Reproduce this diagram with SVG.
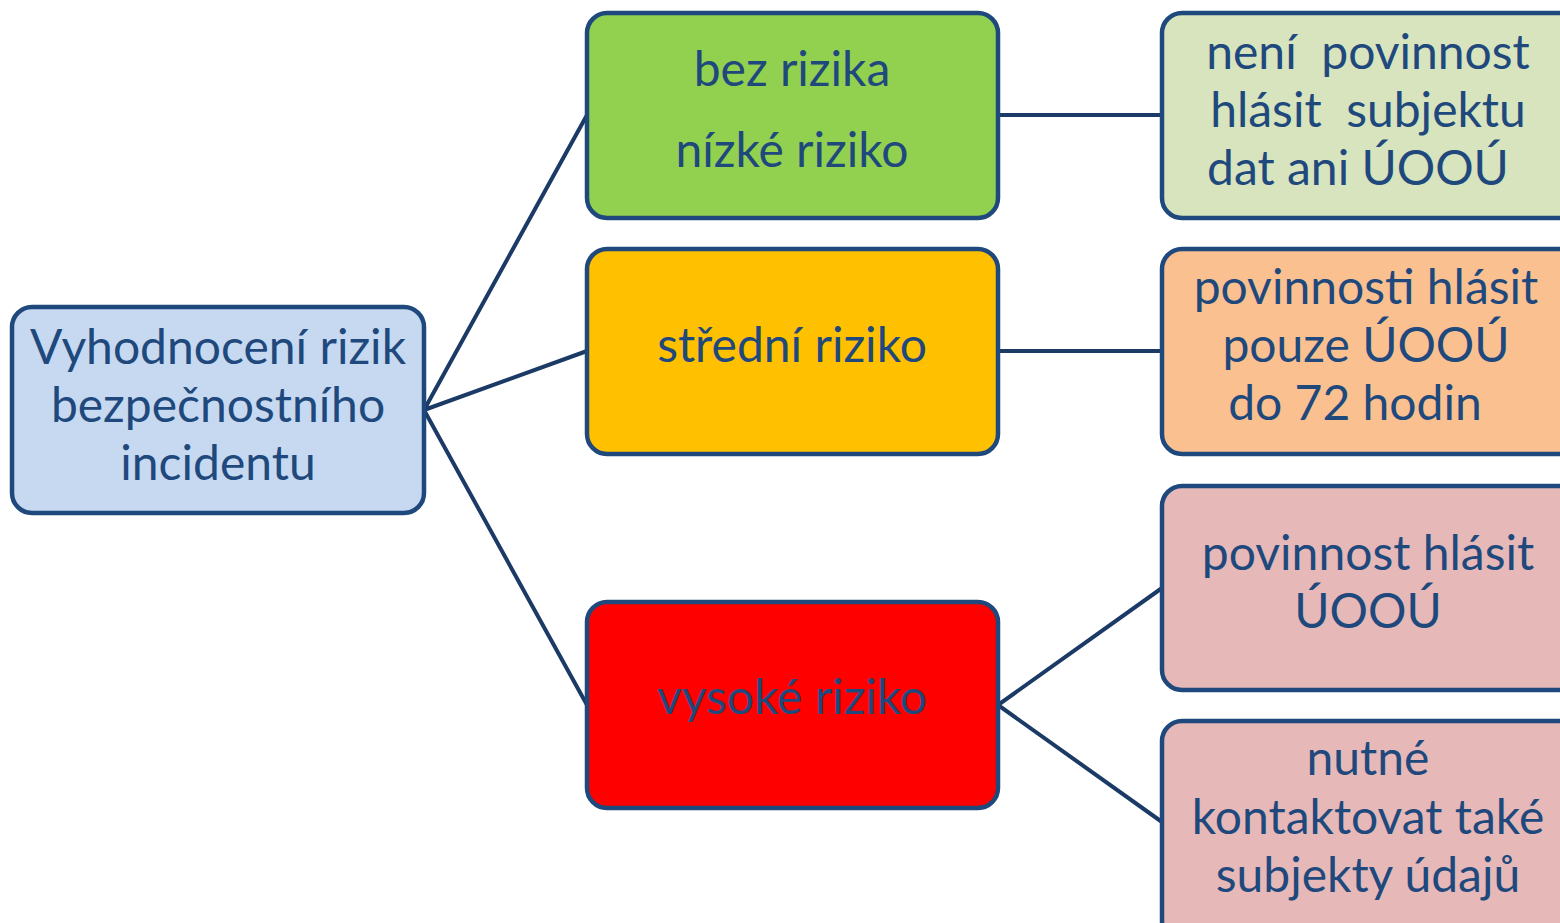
<svg xmlns="http://www.w3.org/2000/svg" width="1560" height="923" viewBox="0 0 1560 923">
<style>
.box{stroke:#1F497D;stroke-width:4.5}
.t{font-family:Lato,"Open Sans","Liberation Sans",sans-serif;font-size:48px;fill:#1F497D;text-anchor:middle}
.c{stroke:#1B3A66;stroke-width:4;fill:none}
</style>
<rect width="1560" height="923" fill="#ffffff"/>
<g id="connectors">
<path class="c" d="M424 410 L587 115 M424 410 L587 351 M424 410 L587 705"/>
<path class="c" d="M998 115 L1162 115 M998 351 L1162 351 M998 705 L1162 588 M998 705 L1162 822"/>
</g>
<g id="root">
<rect class="box" x="12" y="307" width="412" height="206" rx="20" fill="#C6D9F1"/>
<text class="t" x="218" y="364">Vyhodnocení rizik</text>
<text class="t" x="218" y="422">bezpečnostního</text>
<text class="t" x="218" y="480">incidentu</text>
</g>
<g id="low">
<rect class="box" x="587" y="13" width="411" height="205" rx="20" fill="#92D050"/>
<text class="t" x="792" y="86">bez rizika</text>
<text class="t" x="792" y="167">nízké riziko</text>
</g>
<g id="mid">
<rect class="box" x="587" y="249" width="411" height="205" rx="20" fill="#FFC000"/>
<text class="t" x="792" y="362">střední riziko</text>
</g>
<g id="high">
<rect class="box" x="587" y="602" width="411" height="206" rx="20" fill="#FF0000"/>
<text class="t" x="792" y="714">vysoké riziko</text>
</g>
<g id="r1">
<rect class="box" x="1162" y="13" width="420" height="205" rx="20" fill="#D7E4BD"/>
<text class="t" x="1368" y="69" xml:space="preserve">není  povinnost</text>
<text class="t" x="1368" y="127" xml:space="preserve">hlásit  subjektu</text>
<text class="t" x="1358" y="185">dat ani ÚOOÚ</text>
</g>
<g id="r2">
<rect class="box" x="1162" y="249" width="420" height="205" rx="20" fill="#FAC090"/>
<text class="t" x="1366" y="304">povinnosti hlásit</text>
<text class="t" x="1366" y="362">pouze ÚOOÚ</text>
<text class="t" x="1355" y="420">do 72 hodin</text>
</g>
<g id="r3">
<rect class="box" x="1162" y="486" width="420" height="204" rx="20" fill="#E6B9B8"/>
<text class="t" x="1368" y="570">povinnost hlásit</text>
<text class="t" x="1368" y="628">ÚOOÚ</text>
</g>
<g id="r4">
<rect class="box" x="1162" y="721" width="420" height="220" rx="20" fill="#E6B9B8"/>
<text class="t" x="1368" y="775">nutné</text>
<text class="t" x="1368" y="834">kontaktovat také</text>
<text class="t" x="1368" y="892">subjekty údajů</text>
</g>
</svg>
